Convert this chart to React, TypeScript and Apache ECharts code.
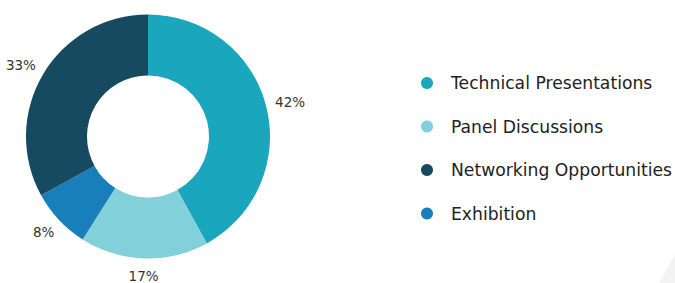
import React, { useEffect, useRef } from "react";
import * as echarts from "echarts";

const categories = ["Technical Presentations", "Panel Discussions", "Exhibition", "Networking Opportunities"];
const values = [42, 17, 8, 33];
const colors = ["#1aa7bd", "#81d0da", "#187fbb", "#154a60"];
const legendOrder = ["Technical Presentations", "Panel Discussions", "Networking Opportunities", "Exhibition"];

export default function App() {
  const ref = useRef<HTMLDivElement>(null);
  useEffect(() => {
    document.body.style.margin = "0";
    if (!ref.current) return;
    const chart = echarts.init(ref.current, null, { renderer: "svg" });
    chart.setOption({
      animation: false,
      backgroundColor: "#ffffff",
      legend: {
        orient: "vertical",
        left: 416,
        top: 69,
        icon: "circle",
        itemWidth: 12,
        itemHeight: 12,
        itemGap: 25.5,
        data: legendOrder,
        textStyle: {
          fontFamily: "DejaVu Sans",
          fontSize: 17.2,
          lineHeight: 18,
          color: "#222",
          padding: [0, 0, 0, 13],
        },
      },
      graphic: [
        {
          type: "polygon",
          shape: { points: [[675, 254], [659, 283], [675, 283]] },
          style: { fill: "#f3f3f3" },
          silent: true,
        },
      ],
      series: [
        {
          type: "pie",
          center: [148, 136.5],
          radius: [61, 122],
          startAngle: 90,
          clockwise: true,
          avoidLabelOverlap: false,
          label: {
            show: true,
            position: "outside",
            formatter: "{c}%",
            fontFamily: "DejaVu Sans",
            fontSize: 13.5,
            color: "#333",
            distanceToLabelLine: -8,
          },
          labelLine: { show: false, length: 17.5, length2: 0 },
          labelLayout: (p: any) => {
            const pts = p.labelLinePoints;
            if (!pts) return {};
            const ddx = pts[1][0] - pts[0][0];
            const ddy = pts[1][1] - pts[0][1];
            const len = Math.sqrt(ddx * ddx + ddy * ddy) || 1;
            if (Math.abs(ddx) / len < 0.2) {
              return { x: pts[1][0], align: "center" };
            }
            return {};
          },
          emphasis: { disabled: true },
          data: categories.map((name, i) => ({
            name,
            value: values[i],
            itemStyle: { color: colors[i] },
          })),
        },
      ],
    });
    return () => chart.dispose();
  }, []);
  return <div ref={ref} style={{ width: 675, height: 283 }} />;
}
